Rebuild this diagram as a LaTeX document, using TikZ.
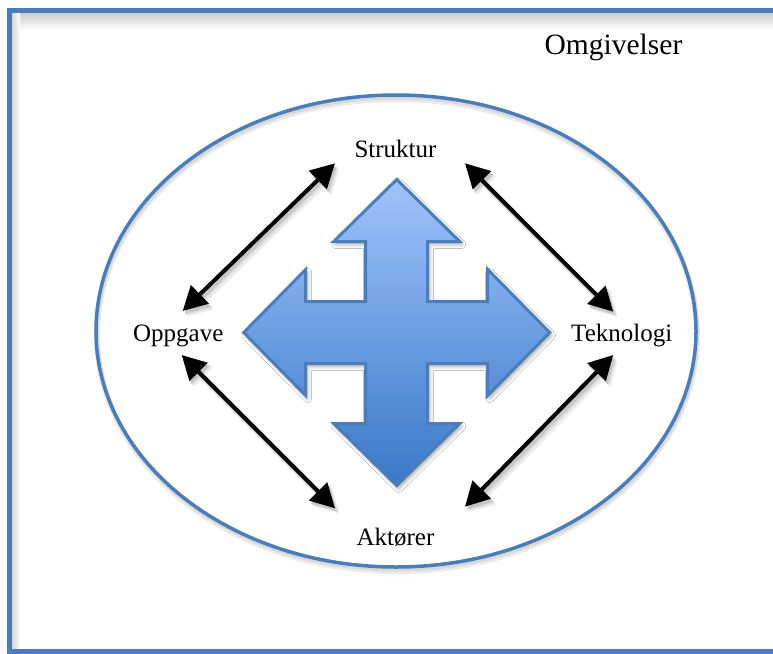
\documentclass[tikz,border=0pt]{standalone}
\usepackage{fontspec}
\setmainfont{Liberation Serif}
\usetikzlibrary{arrows.meta,shadows.blur}

\definecolor{frameblue}{RGB}{74,126,187}
\definecolor{crosstop}{RGB}{160,196,251}
\definecolor{crossbottom}{RGB}{58,120,200}
\definecolor{crossedge}{RGB}{74,126,187}

\begin{document}
\begin{tikzpicture}[x=1pt,y=-1pt,
  fieldtext/.style={font=\fontsize{25}{28}\selectfont, inner sep=0pt, anchor=base},
  envtext/.style={font=\fontsize{29.5}{34}\selectfont, inner sep=0pt, anchor=base},
  link/.style={line width=4pt, black, {Triangle[length=24pt,width=25pt]}-{Triangle[length=24pt,width=25pt]}},
  linkshade/.style={line width=#1, {Triangle[length=24pt,width=25pt]}-{Triangle[length=24pt,width=25pt]}},
]
\useasboundingbox (0,0) rectangle (773,653);
\fill[white] (0,0) rectangle (773,653);

% inner shading of the frame along its top and left sides
\shade[top color=black!20, bottom color=white] (12,13) rectangle (773,30);
\shade[left color=black!16, right color=white] (12,13) rectangle (20,653);

% environment frame
\draw[frameblue, line width=5pt] (9.5,10.5) rectangle (800,651.5);

% organisation boundary with a soft shadow under its line
\draw[black!8, line width=6pt, transform canvas={xshift=1pt, yshift=-4pt}]
  (396,331) ellipse [x radius=300pt, y radius=236pt];
\draw[black!15, line width=4pt, transform canvas={xshift=1pt, yshift=-2.5pt}]
  (396,331) ellipse [x radius=300pt, y radius=236pt];
\draw[frameblue, line width=3.5pt] (396,331) ellipse [x radius=300pt, y radius=236pt];

% labels
\node[envtext] (omgivelser) at (613.5,54.3) {Omgivelser};
\node[fieldtext] (struktur) at (395.5,157.3) {Struktur};
\node[fieldtext] (oppgave) at (178.3,341) {Oppgave};
\node[fieldtext] (teknologi) at (621.7,341.7) {Teknologi};
\node[fieldtext] (aktorer) at (395.5,545.7) {Aktører};

% connector end points
\coordinate (sl) at (335,163.3);
\coordinate (ot) at (182.7,311);
\coordinate (sr) at (465,163.3);
\coordinate (tt) at (613.3,311.7);
\coordinate (ob) at (181.7,355);
\coordinate (al) at (335,508.3);
\coordinate (tb) at (613.3,355);
\coordinate (ar) at (465,506.7);

% soft shadows of the connectors
\foreach \dx/\dy/\g/\w in {4.5/5.5/7/6pt, 3/4/13/5pt, 2/3/22/4pt}{
  \begin{scope}[transform canvas={xshift=\dx pt, yshift=-\dy pt}]
    \draw[linkshade=\w, black!\g] (sl) -- (ot);
    \draw[linkshade=\w, black!\g] (sr) -- (tt);
    \draw[linkshade=\w, black!\g] (ob) -- (al);
    \draw[linkshade=\w, black!\g] (tb) -- (ar);
  \end{scope}
}

% connectors
\draw[link] (sl) -- (ot);
\draw[link] (sr) -- (tt);
\draw[link] (ob) -- (al);
\draw[link] (tb) -- (ar);

% four-way arrow in the middle
\begin{scope}[shift={(396.7,332.5)}]
  \def\w{31}\def\h{63}\def\b{91}\def\t{153}
  \path[draw=crossedge, line width=3pt, line join=miter, top color=crosstop, bottom color=crossbottom,
        blur shadow={shadow xshift=2pt, shadow yshift=-3pt, shadow blur radius=4pt, shadow opacity=35}]
    (0,-\t) -- (\h,-\b) -- (\w,-\b) -- (\w,-\w) -- (\b,-\w) -- (\b,-\h) -- (\t,0)
    -- (\b,\h) -- (\b,\w) -- (\w,\w) -- (\w,\b) -- (\h,\b) -- (0,\t)
    -- (-\h,\b) -- (-\w,\b) -- (-\w,\w) -- (-\b,\w) -- (-\b,\h) -- (-\t,0)
    -- (-\b,-\h) -- (-\b,-\w) -- (-\w,-\w) -- (-\w,-\b) -- (-\h,-\b) -- cycle;
\end{scope}
\end{tikzpicture}
\end{document}
